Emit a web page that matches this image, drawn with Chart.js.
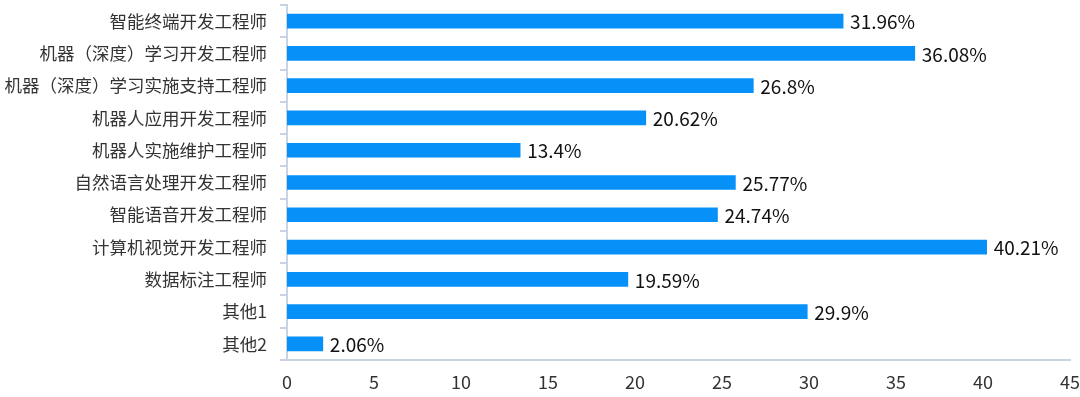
<!DOCTYPE html>
<html>
<head>
<meta charset="utf-8">
<script src="https://cdn.jsdelivr.net/npm/chart.js@4"></script>
<style>
  html, body { margin: 0; padding: 0; background: #fff; }
  #wrap { width: 1080px; height: 397px; }
</style>
</head>
<body>
<div id="wrap"><canvas id="barChart"></canvas></div>
<script>
const categories = [
  '智能终端开发工程师',
  '机器（深度）学习开发工程师',
  '机器（深度）学习实施支持工程师',
  '机器人应用开发工程师',
  '机器人实施维护工程师',
  '自然语言处理开发工程师',
  '智能语音开发工程师',
  '计算机视觉开发工程师',
  '数据标注工程师',
  '其他1',
  '其他2'
];
const percentValues = [31.96, 36.08, 26.8, 20.62, 13.4, 25.77, 24.74, 40.21, 19.59, 29.9, 2.06];
const xTicks = [0, 5, 10, 15, 20, 25, 30, 35, 40, 45];

const FONT = '"Noto Sans CJK SC", "Noto Sans", sans-serif';
const axisColor = '#c8d4e3';

// draw "xx%" next to each bar
const valueLabels = {
  id: 'valueLabels',
  afterDatasetsDraw(chart) {
    const ctx = chart.ctx;
    const meta = chart.getDatasetMeta(0);
    ctx.save();
    ctx.font = '19px ' + FONT;
    ctx.fillStyle = '#111';
    ctx.textAlign = 'left';
    ctx.textBaseline = 'middle';
    meta.data.forEach((bar, i) => {
      ctx.fillText(percentValues[i] + '%', bar.x + 7, bar.y + 1);
    });
    ctx.restore();
  }
};

new Chart(document.getElementById('barChart'), {
  type: 'bar',
  data: {
    labels: categories,
    datasets: [{
      data: percentValues,
      backgroundColor: '#0791f8',
      barThickness: 14
    }]
  },
  options: {
    indexAxis: 'y',
    responsive: true,
    maintainAspectRatio: false,
    animation: false,
    layout: { padding: { left: 5, right: 10, top: 5, bottom: 0 } },
    plugins: {
      legend: { display: false },
      tooltip: { enabled: false }
    },
    scales: {
      x: {
        min: 0,
        max: 45,
        afterBuildTicks: scale => { scale.ticks = xTicks.map(v => ({ value: v })); },
        afterFit: scale => {
          scale.height = 37;
          scale.paddingRight = 0;
        },
        grid: { display: false },
        border: { display: true, color: axisColor, width: 2 },
        ticks: {
          color: '#333',
          font: { family: FONT, size: 18 },
          padding: 3,
          maxRotation: 0
        }
      },
      y: {
        afterFit: scale => {
          scale.width = 282;
          scale.paddingTop = 0;
          scale.paddingBottom = 0;
        },
        grid: {
          drawOnChartArea: false,
          drawTicks: true,
          tickLength: 7,
          color: axisColor,
          lineWidth: 2,
          offset: true
        },
        border: { display: true, color: axisColor, width: 2 },
        ticks: {
          color: '#333',
          font: { family: FONT, size: 17.5 },
          padding: 13
        }
      }
    }
  },
  plugins: [valueLabels]
});
</script>
</body>
</html>
